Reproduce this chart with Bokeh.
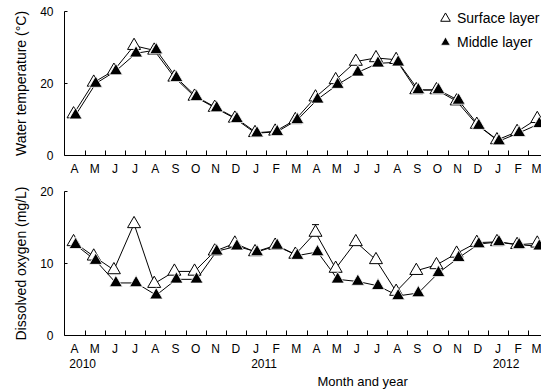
from bokeh.plotting import figure
from bokeh.layouts import column
from bokeh.models import (ColumnDataSource, FixedTicker, Range1d, Legend, LegendItem,
                          Whisker, LinearAxis, Title)
from bokeh.embed import file_html
from bokeh.resources import INLINE

months = ["A", "M", "J", "J", "A", "S", "O", "N", "D", "J", "F", "M",
          "A", "M", "J", "J", "A", "S", "O", "N", "D", "J", "F", "M"]
years = ["2010", "2011", "2012"]
year_pos = [0, 9, 21]

temp_surface = [11.5, 20.3, 23.6, 30.5, 29.2, 21.7, 16.4, 13.3, 10.3, 6.3, 6.7, 9.9,
                16.2, 21.0, 26.1, 27.1, 26.6, 18.2, 18.2, 15.1, 8.6, 4.3, 6.6, 10.2]
temp_middle = [11.2, 20.0, 23.5, 28.4, 29.3, 21.6, 16.3, 13.2, 10.2, 6.2, 6.6, 9.9,
               15.6, 19.7, 23.1, 25.6, 25.9, 18.2, 18.2, 15.3, 8.3, 4.0, 6.3, 8.8]
do_surface = [13.0, 11.0, 9.1, 15.5, 7.2, 8.9, 8.9, 11.7, 12.8, 11.6, 12.5, 11.25,
              14.3, 9.3, 13.0, 10.5, 6.1, 9.0, 9.8, 11.4, 12.9, 13.0, 12.6, 12.8]
do_middle = [12.6, 10.4, 7.3, 7.3, 5.6, 7.8, 7.8, 11.7, 12.4, 11.6, 12.5, 11.1,
             11.6, 7.8, 7.5, 6.9, 5.5, 5.9, 8.7, 10.8, 12.7, 13.0, 12.6, 12.4]
do_surface_err = [0, 0, 0, 0, 0, 0, 0, 0, 0, 0, 0, 0,
                  1.1, 0, 0, 0, 0, 0, 0, 0, 0, 0, 0, 0]

FONT = "Liberation Sans"
idx = list(range(len(months)))
xs_s = [i - 0.05 for i in idx]
xs_m = [i + 0.05 for i in idx]


def make_fig(height, yr, yticks, ylabel, border_top, border_bottom):
    p = figure(width=541, height=height, output_backend="svg", toolbar_location=None,
               x_range=Range1d(-0.5, 23.16), y_range=Range1d(*yr),
               min_border_left=64, min_border_right=0,
               min_border_top=border_top, min_border_bottom=border_bottom)
    p.outline_line_color = None
    p.xgrid.visible = False
    p.ygrid.visible = False
    p.background_fill_color = "white"
    p.border_fill_color = "white"
    xa = p.xaxis[0]
    xa.ticker = FixedTicker(ticks=idx, minor_ticks=[i + 0.53 for i in idx[:-1]])
    xa.major_label_overrides = {i: m for i, m in enumerate(months)}
    xa.major_tick_in = 0
    xa.major_tick_out = 0
    xa.minor_tick_in = 5
    xa.minor_tick_out = 0
    xa.minor_tick_line_color = "black"
    xa.axis_line_color = "black"
    xa.major_label_standoff = 6
    xa.major_label_text_font = FONT
    xa.major_label_text_font_size = "12px"
    xa.major_label_text_color = "black"
    ya = p.yaxis[0]
    ya.ticker = FixedTicker(ticks=yticks)
    ya.major_tick_in = 3
    ya.major_tick_out = 0
    ya.minor_tick_in = 0
    ya.minor_tick_out = 0
    ya.axis_line_color = "black"
    ya.major_tick_line_color = "black"
    ya.major_label_standoff = 11
    ya.major_label_text_font = FONT
    ya.major_label_text_font_size = "12px"
    ya.major_label_text_color = "black"
    ya.axis_label = ylabel
    ya.axis_label_standoff = 8
    ya.axis_label_text_font = FONT
    ya.axis_label_text_font_size = "14px"
    ya.axis_label_text_font_style = "normal"
    ya.axis_label_text_color = "black"
    return p


# ---- Top: water temperature
p1 = make_fig(178, (0, 40), [0, 20, 40], "Water temperature (°C)", 11, 23)
src1 = ColumnDataSource(dict(xs=xs_s, xm=xs_m, s=temp_surface, m=temp_middle))
p1.line("xs", "s", source=src1, line_color="black", line_width=1)
p1.line("xm", "m", source=src1, line_color="black", line_width=1)
rs = p1.scatter("xs", "s", source=src1, marker="triangle", size=13,
                fill_color="white", line_color="black", line_width=1)
rm = p1.scatter("xm", "m", source=src1, marker="triangle", size=13,
                fill_color="black", line_color="white", line_width=0.8)

legend = Legend(items=[LegendItem(label="Surface layer", renderers=[rs]),
                       LegendItem(label="Middle layer", renderers=[rm])],
                location=(369, 101), orientation="vertical",
                border_line_color=None, background_fill_alpha=0,
                label_text_font=FONT, label_text_font_size="14px",
                label_text_color="black",
                glyph_width=24, glyph_height=24, label_height=24,
                label_standoff=0, spacing=0, padding=0, margin=0)
p1.add_layout(legend)

# ---- Bottom: dissolved oxygen
p2 = make_fig(213, (0, 20), [0, 10, 20], "Dissolved oxygen (mg/L)", 13, 56)
src2 = ColumnDataSource(dict(xs=xs_s, xm=xs_m, s=do_surface, m=do_middle))
p2.line("xs", "s", source=src2, line_color="black", line_width=1)
p2.line("xm", "m", source=src2, line_color="black", line_width=1)

ex = [xs_s[i] for i in idx if do_surface_err[i] > 0]
ebase = [do_surface[i] for i in idx if do_surface_err[i] > 0]
etop = [do_surface[i] + do_surface_err[i] for i in idx if do_surface_err[i] > 0]
esrc = ColumnDataSource(dict(x=ex, lower=ebase, upper=etop))
wh = Whisker(source=esrc, base="x", lower="lower", upper="upper", dimension="height",
             line_color="black", line_width=1)
wh.upper_head.size = 7
wh.upper_head.line_color = "black"
wh.lower_head = None
p2.add_layout(wh)

p2.scatter("xs", "s", source=src2, marker="triangle", size=13,
           fill_color="white", line_color="black", line_width=1)
p2.scatter("xm", "m", source=src2, marker="triangle", size=13,
           fill_color="black", line_color="white", line_width=0.8)

# year labels as a second, line-less axis below the month axis
year_ticks = [yp + 0.4 for yp in year_pos]
yax = LinearAxis(ticker=FixedTicker(ticks=year_ticks),
                 major_label_overrides={t: y for t, y in zip(year_ticks, years)},
                 axis_line_color=None, major_tick_line_color=None,
                 minor_tick_line_color=None, major_tick_in=0, major_tick_out=0,
                 major_label_standoff=0, major_label_text_font=FONT,
                 major_label_text_font_size="12px", major_label_text_color="black")
p2.add_layout(yax, "below")
p2.add_layout(Title(text="Month and year", align="left", offset=253, standoff=3,
                    text_font=FONT, text_font_size="13px", text_font_style="normal",
                    text_color="black"), "below")

layout = column(p1, p2, spacing=0)
open("out.html", "w").write(file_html(layout, INLINE))
